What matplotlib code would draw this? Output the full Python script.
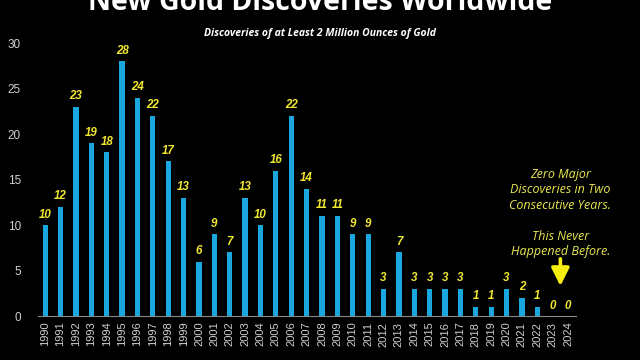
import matplotlib.pyplot as plt
import numpy as np

years = [str(y) for y in range(1990, 2025)]
discoveries = [10, 12, 23, 19, 18, 28, 24, 22, 17, 13, 6, 9, 7, 13, 10, 16, 22, 14,
               11, 11, 9, 9, 3, 7, 3, 3, 3, 3, 1, 1, 3, 2, 1, 0, 0]
yticks = [0, 5, 10, 15, 20, 25, 30]

title = "New Gold Discoveries Worldwide"
subtitle = "Discoveries of at Least 2 Million Ounces of Gold"
note = "Zero Major\nDiscoveries in Two\nConsecutive Years.\n\nThis Never\nHappened Before."

bar_col = "#1aa6de"
yellow = "#f2e830"

fig = plt.figure(figsize=(6.4, 3.6), dpi=100, facecolor="black")
ax = fig.add_axes([0.0586, 0.122, 0.841, 0.758], facecolor="black")

x = np.arange(len(years))
ax.bar(x, discoveries, width=0.34, color=bar_col)

for xi, v in zip(x, discoveries):
    ax.text(xi, v + 0.5, str(v), ha="center", va="bottom", color=yellow,
            fontsize=8.3, fontweight="bold", style="italic", family="Liberation Sans")

ax.set_xlim(-0.5, 34.5)
ax.set_ylim(0, 30)
ax.set_xticks(x)
ax.set_xticklabels(years, rotation=90, color="#d0d0d0", fontsize=8, family="Liberation Sans")
ax.set_yticks(yticks)
ax.set_yticklabels([str(t) for t in yticks], color="#d0d0d0", fontsize=8.5, family="Liberation Sans")
ax.tick_params(length=0, pad=4)
ax.tick_params(axis="y", pad=12)
for s in ["top", "right", "left"]:
    ax.spines[s].set_visible(False)
ax.spines["bottom"].set_color("#8a8a8a")
ax.spines["bottom"].set_linewidth(0.8)

fig.text(0.5, 0.992, title, ha="center", va="center", color="white",
         fontsize=20.5, fontweight="bold", family="Open Sans")
fig.text(0.5, 0.908, subtitle, ha="center", va="center", color="white",
         fontsize=7.5, fontweight="bold", style="italic", family="Open Sans")

ax.text(33.5, 16.3, note, ha="center", va="top", color="#e8e650",
        fontsize=9, style="italic", family="Open Sans", linespacing=1.25)
ax.annotate("", xy=(33.5, 3.0), xytext=(33.5, 6.6),
            arrowprops=dict(arrowstyle="-|>,head_width=0.45,head_length=0.9",
                            color="#f5ee10", lw=2.6, mutation_scale=12))

fig.savefig("out.png", dpi=100, facecolor="black")
